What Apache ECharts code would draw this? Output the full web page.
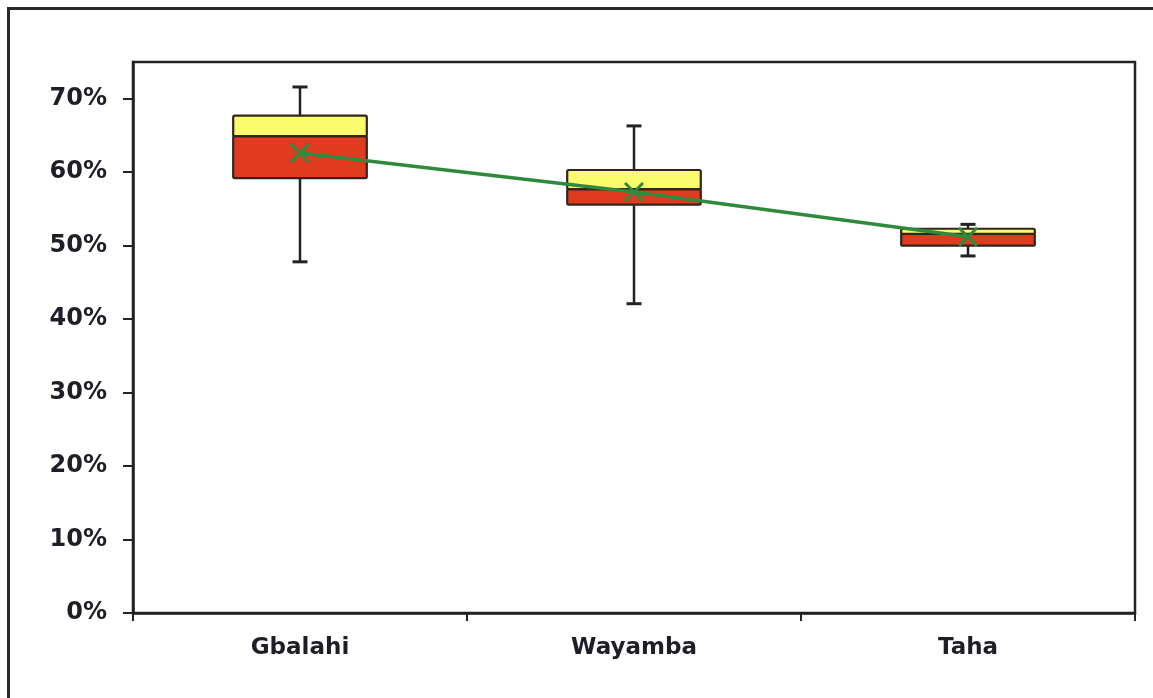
<!DOCTYPE html>
<html>
<head>
<meta charset="utf-8">
<script src="https://cdn.jsdelivr.net/npm/echarts@6/dist/echarts.min.js"></script>
<style>
html,body{margin:0;padding:0;background:#fff;}
#chart{width:1153px;height:698px;}
</style>
</head>
<body>
<div id="chart"></div>
<script>
var categories = ['Gbalahi', 'Wayamba', 'Taha'];
var whiskerMin = [0.478, 0.421, 0.486];
var q1 = [0.592, 0.556, 0.500];
var median = [0.649, 0.577, 0.516];
var q3 = [0.677, 0.603, 0.523];
var whiskerMax = [0.716, 0.663, 0.529];
var mean = [0.626, 0.573, 0.512];

var boxData = categories.map(function (c, i) {
  return [i, whiskerMin[i], q1[i], median[i], q3[i], whiskerMax[i]];
});

var chart = echarts.init(document.getElementById('chart'));
var font = 'DejaVu Sans';
var textColor = '#1e1e28';
var axisColor = '#222';

function renderBox(params, api) {
  var x = api.value(0);
  var pMin = api.coord([x, api.value(1)]);
  var pQ1 = api.coord([x, api.value(2)]);
  var pMed = api.coord([x, api.value(3)]);
  var pQ3 = api.coord([x, api.value(4)]);
  var pMax = api.coord([x, api.value(5)]);
  var band = api.size([1, 0])[0];
  var w = band * 0.40;
  var cx = pMed[0];
  var capW = 15;
  var border = '#33241c';
  var wl = '#222';
  return {
    type: 'group',
    children: [
      {type: 'line', shape: {x1: cx, y1: pQ3[1], x2: cx, y2: pMax[1]}, style: {stroke: wl, lineWidth: 2.5}},
      {type: 'line', shape: {x1: cx - capW / 2, y1: pMax[1], x2: cx + capW / 2, y2: pMax[1]}, style: {stroke: wl, lineWidth: 3}},
      {type: 'line', shape: {x1: cx, y1: pQ1[1], x2: cx, y2: pMin[1]}, style: {stroke: wl, lineWidth: 2.5}},
      {type: 'line', shape: {x1: cx - capW / 2, y1: pMin[1], x2: cx + capW / 2, y2: pMin[1]}, style: {stroke: wl, lineWidth: 3}},
      {type: 'rect', shape: {x: cx - w / 2, y: pMed[1], width: w, height: pQ1[1] - pMed[1], r: 1.5}, style: {fill: '#e03a1f', stroke: border, lineWidth: 2.2}},
      {type: 'rect', shape: {x: cx - w / 2, y: pQ3[1], width: w, height: pMed[1] - pQ3[1], r: 1.5}, style: {fill: '#fbfb6e', stroke: border, lineWidth: 2.2}}
    ]
  };
}

var option = {
  backgroundColor: '#fff',
  animation: false,
  graphic: [
    {type: 'rect', shape: {x: 8.5, y: 8.5, width: 1200, height: 760}, style: {fill: 'none', stroke: '#2a2a2a', lineWidth: 3}, z: 100}
  ],
  grid: {left: 133, top: 62, right: 18, bottom: 85, containLabel: false, show: true, borderColor: axisColor, borderWidth: 2.5, backgroundColor: '#fff'},
  xAxis: {
    type: 'category',
    data: categories,
    boundaryGap: true,
    axisLine: {lineStyle: {color: axisColor, width: 2.5}},
    axisTick: {show: true, length: 8, alignWithLabel: false, lineStyle: {color: axisColor, width: 2}},
    axisLabel: {color: textColor, fontFamily: font, fontWeight: 'bold', fontSize: 23, margin: 24},
    splitLine: {show: false}
  },
  yAxis: {
    type: 'value',
    min: 0,
    max: 0.75,
    interval: 0.1,
    axisLine: {show: true, lineStyle: {color: axisColor, width: 2.5}},
    axisTick: {show: true, length: 10, lineStyle: {color: axisColor, width: 2}},
    axisLabel: {
      color: textColor, fontFamily: font, fontWeight: 'bold', fontSize: 24, margin: 26,
      showMaxLabel: false,
      formatter: function (v) { return Math.round(v * 100) + '%'; }
    },
    splitLine: {show: false}
  },
  series: [
    {
      type: 'custom',
      renderItem: renderBox,
      data: boxData,
      encode: {x: 0, y: [1, 2, 3, 4, 5]},
      z: 2
    },
    {
      type: 'line',
      data: mean,
      symbol: 'path://M0,0 L10,10 M10,0 L0,10',
      symbolSize: 18,
      itemStyle: {color: '#2f8a3e', borderColor: '#2f8a3e', borderWidth: 3},
      lineStyle: {color: '#2f8a3e', width: 3.5},
      z: 5
    }
  ]
};
chart.setOption(option);
</script>
</body>
</html>
